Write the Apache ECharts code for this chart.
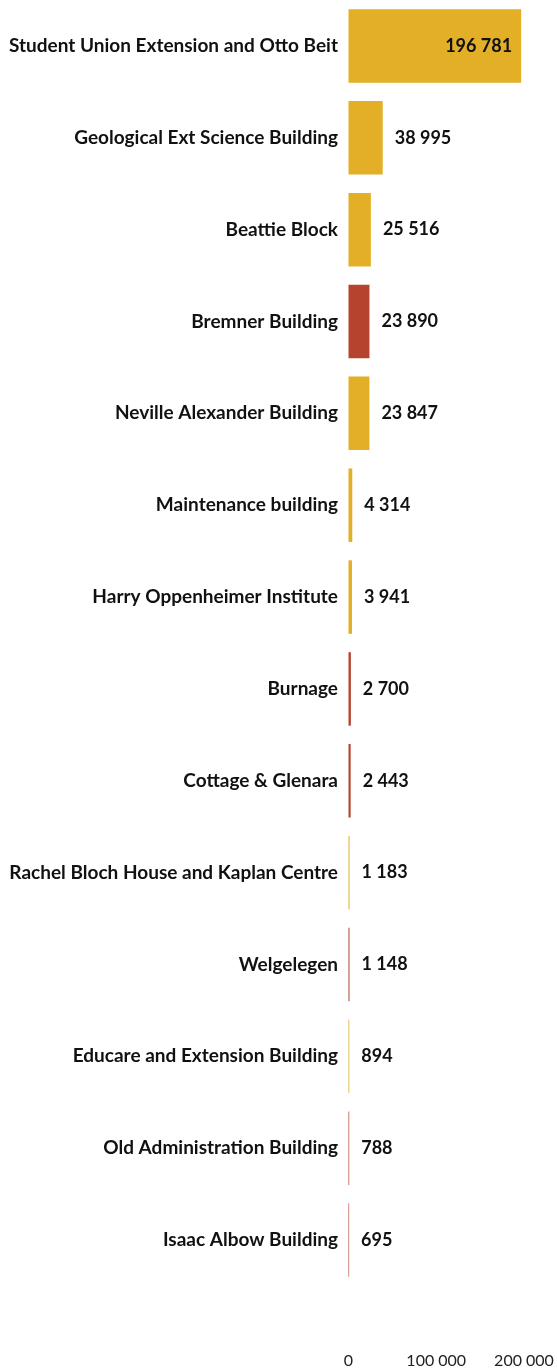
<!DOCTYPE html>
<html>
<head>
<meta charset="utf-8">
<script src="https://cdn.jsdelivr.net/npm/echarts@6/dist/echarts.min.js"></script>
<style>
  html, body { margin: 0; padding: 0; background: #fff; }
  #chart { width: 557px; height: 1369px; }
</style>
</head>
<body>
<div id="chart"></div>
<script>
let buildings = [
    'Student Union Extension and Otto Beit',
    'Geological Ext Science Building',
    'Beattie Block',
    'Bremner Building',
    'Neville Alexander Building',
    'Maintenance building',
    'Harry Oppenheimer Institute',
    'Burnage',
    'Cottage & Glenara',
    'Rachel Bloch House and Kaplan Centre',
    'Welgelegen',
    'Educare and Extension Building',
    'Old Administration Building',
    'Isaac Albow Building'
];
let areas = [196781, 38995, 25516, 23890, 23847, 4314, 3941, 2700, 2443, 1183, 1148, 894, 788, 695];
// 'g' = gold, 'r' = red
let groups = ['g', 'g', 'g', 'r', 'g', 'g', 'g', 'r', 'r', 'g', 'r', 'g', 'r', 'r'];
let xTicks = [0, 100000, 200000];

let colors = { g: '#E3AF27', r: '#B5432E' };

function fmt(v) {
    return String(v).replace(/\B(?=(\d{3})+(?!\d))/g, ' ');
}

let barData = areas.map(function (v, i) {
    let item = {
        value: v,
        itemStyle: { color: colors[groups[i]], borderWidth: 0 }
    };
    if (i === 0) {
        item.label = { position: 'insideRight', distance: 9 };
    }
    return item;
});

let option = {
    animation: false,
    grid: { left: 348.5, right: 33, top: -2.7, bottom: 82.3 },
    xAxis: {
        type: 'value',
        min: 0,
        max: xTicks[xTicks.length - 1],
        interval: 100000,
        axisLine: { show: false },
        axisTick: { show: false },
        splitLine: { show: false },
        axisLabel: {
            margin: 67,
            fontFamily: 'Lato',
            fontSize: 16,
            color: '#222',
            formatter: function (v) { return fmt(v); }
        }
    },
    yAxis: {
        type: 'category',
        inverse: true,
        data: buildings,
        axisLine: { show: false },
        axisTick: { show: false },
        axisLabel: {
            margin: 10.5,
            fontFamily: 'Lato',
            fontWeight: 'bold',
            fontSize: 19,
            color: '#111'
        }
    },
    series: [{
        type: 'bar',
        data: barData,
        barCategoryGap: '20%',
        label: {
            show: true,
            position: 'right',
            distance: 12,
            fontFamily: 'Lato',
            fontWeight: 'bold',
            fontSize: 18,
            color: '#111',
            formatter: function (p) { return fmt(p.value); }
        }
    }]
};

let chart = echarts.init(document.getElementById('chart'));
chart.setOption(option);
</script>
</body>
</html>
